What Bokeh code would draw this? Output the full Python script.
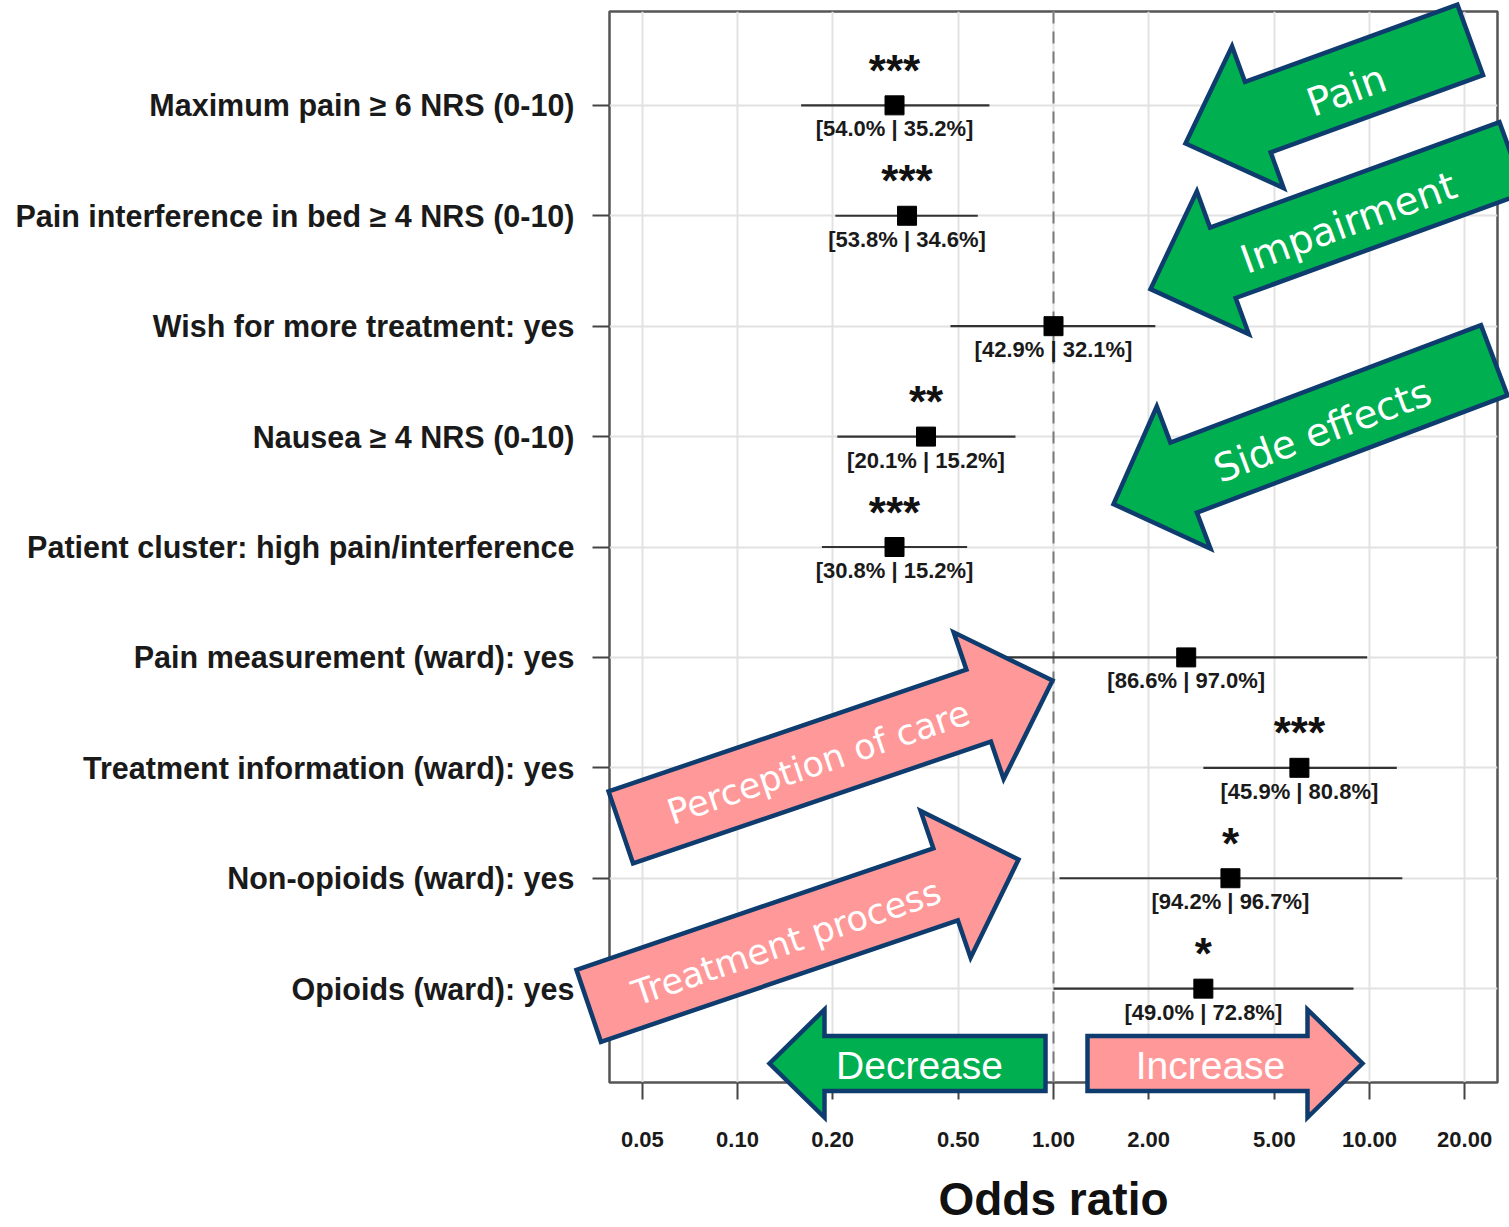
import math

from bokeh.plotting import figure
from bokeh.models import (Range1d, FixedTicker, NumeralTickFormatter, Span,
                          ColumnDataSource)
from bokeh.core.properties import value
from bokeh.embed import file_html
from bokeh.resources import INLINE

# ---- data -------------------------------------------------------------
categories = [
    "Maximum pain ≥ 6 NRS (0-10)",
    "Pain interference in bed ≥ 4 NRS (0-10)",
    "Wish for more treatment: yes",
    "Nausea ≥ 4 NRS (0-10)",
    "Patient cluster: high pain/interference",
    "Pain measurement (ward): yes",
    "Treatment information (ward): yes",
    "Non-opioids (ward): yes",
    "Opioids (ward): yes",
]
odds_ratio = [0.314, 0.344, 1.00, 0.395, 0.314, 2.63, 6.00, 3.63, 2.98]
ci_lower = [0.159, 0.204, 0.472, 0.207, 0.185, 0.70, 2.98, 1.045, 1.00]
ci_upper = [0.627, 0.576, 2.10, 0.758, 0.533, 9.83, 12.2, 12.7, 8.90]
significance = ["***", "***", "", "**", "***", "", "***", "*", "*"]
group_pct = [
    "[54.0% | 35.2%]", "[53.8% | 34.6%]", "[42.9% | 32.1%]",
    "[20.1% | 15.2%]", "[30.8% | 15.2%]", "[86.6% | 97.0%]",
    "[45.9% | 80.8%]", "[94.2% | 96.7%]", "[49.0% | 72.8%]",
]
x_ticks = [0.05, 0.1, 0.2, 0.5, 1, 2, 5, 10, 20]

# ---- layout constants -------------------------------------------------
FRAME_LEFT, FRAME_TOP, FRAME_W, FRAME_H = 609, 11, 888, 1071
WIDTH, HEIGHT = 1509, 1227
LOG_LO, LOG_HI = -1.405, 1.405
Y_LO, Y_HI = 0.15, 9.85
PX_PER_Y = FRAME_H / (Y_HI - Y_LO)

n = len(categories)
rows = [n - i for i in range(n)]          # top row is drawn highest

FONT = "Liberation Sans"
INK = "#1a1a1a"

p = figure(width=WIDTH, height=HEIGHT, x_axis_type="log",
           x_range=Range1d(10 ** LOG_LO, 10 ** LOG_HI),
           y_range=Range1d(Y_LO, Y_HI),
           output_backend="svg", toolbar_location=None,
           min_border_left=FRAME_LEFT, min_border_top=FRAME_TOP,
           min_border_right=WIDTH - FRAME_LEFT - FRAME_W,
           min_border_bottom=HEIGHT - FRAME_TOP - FRAME_H,
           background_fill_color="white", border_fill_color="white")

p.outline_line_color = "#555555"
p.outline_line_width = 2.5

# x axis
xa = p.xaxis[0]
xa.ticker = FixedTicker(ticks=x_ticks)
xa.formatter = NumeralTickFormatter(format="0.00")
xa.axis_line_color = None
xa.major_tick_out = 17
xa.major_tick_in = 0
xa.major_tick_line_width = 2
xa.major_tick_line_color = "#444444"
xa.minor_tick_line_color = None
xa.major_label_standoff = 32
xa.major_label_text_font = FONT
xa.major_label_text_font_style = "bold"
xa.major_label_text_font_size = "22px"
xa.major_label_text_color = INK
xa.axis_label = "Odds ratio"
xa.axis_label_text_font = FONT
xa.axis_label_text_font_style = "bold"
xa.axis_label_text_font_size = "46px"
xa.axis_label_text_line_height = 1.0
xa.axis_label_text_color = "#111111"
xa.axis_label_standoff = 23

# y axis
ya = p.yaxis[0]
ya.ticker = FixedTicker(ticks=rows)
ya.major_label_overrides = {r: c for r, c in zip(rows, categories)}
ya.axis_line_color = None
ya.major_tick_out = 17
ya.major_tick_in = 0
ya.major_tick_line_width = 2
ya.major_tick_line_color = "#444444"
ya.minor_tick_line_color = None
ya.major_label_standoff = 18
ya.major_label_text_font = FONT
ya.major_label_text_font_style = "bold"
ya.major_label_text_font_size = "30.5px"
ya.major_label_text_color = INK

for g in (p.xgrid[0], p.ygrid[0]):
    g.grid_line_color = "#e2e2e2"
    g.grid_line_width = 2

# reference line at OR = 1
p.add_layout(Span(location=1, dimension="height", line_color="#7a7a7a",
                  line_width=2, line_dash="12 8", level="underlay"))

# ---- forest plot marks -------------------------------------------------
src = ColumnDataSource(dict(
    y=rows, est=odds_ratio, lo=ci_lower, hi=ci_upper,
    stars=significance, pct=group_pct,
    star_y=[r + 35 / PX_PER_Y for r in rows],
    pct_y=[r - 11 / PX_PER_Y for r in rows],
))

p.segment(x0="lo", y0="y", x1="hi", y1="y", source=src,
          line_color="#333333", line_width=2.2)
p.scatter(x="est", y="y", marker="square", size=19, source=src,
          fill_color="black", line_color="black")
p.text(x="est", y="star_y", text="stars", source=src,
       text_font=value(FONT), text_font_style="bold", text_font_size="44px",
       text_align="center", text_baseline="alphabetic", text_color="#111111")
p.text(x="est", y="pct_y", text="pct", source=src,
       text_font=value(FONT), text_font_style="bold", text_font_size="22px",
       text_align="center", text_baseline="top", text_color=INK)


# ---- block arrows (drawn in pixel geometry, mapped to data space) ------
def to_data(px, py):
    x = 10 ** (LOG_LO + (px - FRAME_LEFT) / FRAME_W * (LOG_HI - LOG_LO))
    y = Y_HI - (py - FRAME_TOP) / FRAME_H * (Y_HI - Y_LO)
    return x, y


def arrow_outline(tip, heading, length, head_len, head_w, shaft_w):
    th = math.radians(heading)
    dx, dy = math.cos(th), -math.sin(th)       # pointing direction on screen
    nx, ny = -dy, dx
    tx, ty = tip
    hx, hy = tx - dx * head_len, ty - dy * head_len
    bx, by = tx - dx * length, ty - dy * length
    pts = [
        (tx, ty),
        (hx + nx * head_w / 2, hy + ny * head_w / 2),
        (hx + nx * shaft_w / 2, hy + ny * shaft_w / 2),
        (bx + nx * shaft_w / 2, by + ny * shaft_w / 2),
        (bx - nx * shaft_w / 2, by - ny * shaft_w / 2),
        (hx - nx * shaft_w / 2, hy - ny * shaft_w / 2),
        (hx - nx * head_w / 2, hy - ny * head_w / 2),
    ]
    xs, ys = zip(*(to_data(*pt) for pt in pts))
    return list(xs), list(ys)


GREEN, PINK, EDGE = "#00b050", "#ff9999", "#0f3c6e"

arrows = [
    # text, tip, heading, length, head_len, head_w, shaft_w, fill,
    # text centre, text angle, font, size
    ("Pain", (1185, 143), 200, 303, 77, 151, 75, GREEN,
     (1346, 90), 20, "DejaVu Sans", 39),
    ("Impairment", (1150, 288.6), 200, 385, 77, 152, 75, GREEN,
     (1348, 222), 20, "DejaVu Sans", 39),
    ("Side effects", (1113, 503.6), 200.7, 407, 75, 152, 75, GREEN,
     (1322, 430), 20.5, "DejaVu Sans", 39),
    ("Perception of care", (1052, 680), 18.8, 456, 78, 155, 76, PINK,
     (818, 762), 18.8, "DejaVu Sans", 35),
    ("Treatment process", (1018, 859), 18.8, 454, 77, 155, 76, PINK,
     (786, 942), 18.8, "DejaVu Sans", 35),
    ("Decrease", (769, 1063), 180, 276, 55, 108, 55, GREEN,
     (919, 1065), 0, FONT, 39),
    ("Increase", (1362, 1063), 0, 275, 55, 108, 55, PINK,
     (1210, 1065), 0, FONT, 39),
]

for (txt, tip, heading, length, hl, hw, sw, fill,
     centre, ang, font, size) in arrows:
    xs, ys = arrow_outline(tip, heading, length, hl, hw, sw)
    p.patch(xs, ys, fill_color=fill, fill_alpha=1.0, line_color=EDGE,
            line_width=4.5, line_join="miter", level="annotation")
    lx, ly = to_data(*centre)
    p.text(x=[lx], y=[ly], text=[txt], angle=math.radians(ang),
           text_align="center", text_baseline="middle",
           text_color="white", text_font=value(font),
           text_font_size=f"{size}px", level="annotation")

open("out.html", "w").write(file_html(p, INLINE))
